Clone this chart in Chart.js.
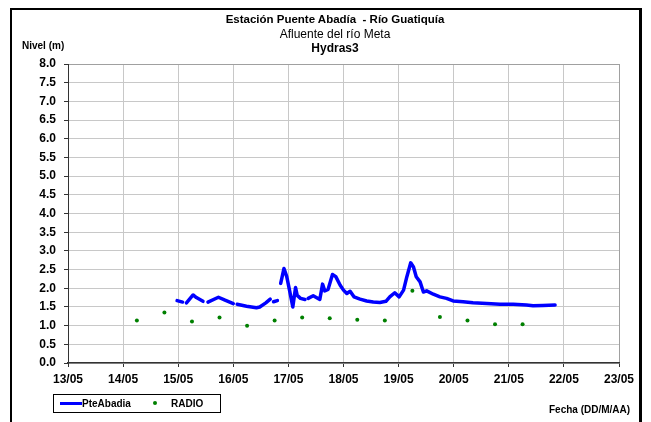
<!DOCTYPE html>
<html lang="es">
<head>
<meta charset="utf-8">
<title>Estación Puente Abadía - Río Guatiquía</title>
<script src="https://cdn.jsdelivr.net/npm/chart.js@4.4.1/dist/chart.umd.min.js"></script>
<style>
  html, body { margin: 0; padding: 0; background: #fff; }
  body { width: 651px; height: 422px; position: relative; overflow: hidden;
         font-family: 'Liberation Sans', Arial, sans-serif; color: #000; }
  #frame { position: absolute; left: 10px; top: 8px; width: 632px; height: 420px;
           border: 2px solid #000; border-right-width: 3px; box-sizing: border-box; }
  #chartWrap { position: absolute; left: 0; top: 0; width: 651px; height: 422px; }
  .txt { position: absolute; white-space: nowrap; }
  .title { left: 0; width: 670px; text-align: center; font-size: 12px; }
  #t1 { top: 13px; font-weight: bold; font-size: 11.5px; }
  #t2 { top: 27px; }
  #t3 { top: 41px; font-weight: bold; }
  #yLabel { left: 22px; top: 40px; font-size: 10px; font-weight: bold; }
  #xLabel { left: 549px; top: 404px; font-size: 10px; font-weight: bold; }
  #legend { position: absolute; left: 53px; top: 394px; width: 168px; height: 19px;
            border: 1px solid #000; box-sizing: border-box; font-size: 10px;
            font-weight: bold; }
  #legend .sw-line { position: absolute; left: 6px; top: 7px; width: 22px; height: 3px; background: #0000ff; }
  #legend .sw-dot { position: absolute; left: 99px; top: 6px; width: 4px; height: 4px;
                    border-radius: 50%; background: #008000; }
  #legend .lab1 { position: absolute; left: 28px; top: 3px; }
  #legend .lab2 { position: absolute; left: 117px; top: 3px; }
</style>
</head>
<body>
<div id="frame"></div>
<div id="chartWrap"><canvas id="levelChart" width="651" height="422"></canvas></div>

<div id="t1" class="txt title">Estación Puente Abadía&nbsp; - Río Guatiquía</div>
<div id="t2" class="txt title">Afluente del río Meta</div>
<div id="t3" class="txt title">Hydras3</div>
<div id="yLabel" class="txt">Nivel (m)</div>
<div id="xLabel" class="txt">Fecha (DD/M/AA)</div>
<div id="legend">
  <span class="sw-line"></span><span class="lab1">PteAbadia</span>
  <span class="sw-dot"></span><span class="lab2">RADIO</span>
</div>

<script>
/* -------------------------------------------------------
   DATA  (x = days after 13/05, y = nivel in metres)
------------------------------------------------------- */
const dayTicks = ['13/05', '14/05', '15/05', '16/05', '17/05', '18/05',
                  '19/05', '20/05', '21/05', '22/05', '23/05'];

// null values break the line where the station has no record
const levelDays = [
  1.98, 2.08, 2.11,
  2.15, 2.27, 2.33, 2.45, 2.50,
  2.54, 2.73, 2.85, 3.00, 3.03,
  3.07, 3.24, 3.42, 3.48, 3.59, 3.67, 3.70,
  3.73, 3.80, 3.83,
  3.86, 3.92, 3.97, 4.02, 4.08, 4.13, 4.16, 4.22, 4.30, 4.33,
  4.36, 4.45, 4.57, 4.62, 4.66, 4.72, 4.80, 4.86, 4.94, 5.00,
  5.06, 5.12, 5.19, 5.30, 5.42, 5.54, 5.66, 5.77, 5.84, 5.93,
  6.01, 6.09, 6.15, 6.22, 6.27, 6.32, 6.39, 6.45, 6.51, 6.63,
  6.75, 6.87, 6.99, 7.17, 7.35, 7.60, 7.84, 8.08, 8.32, 8.44,
  8.62, 8.84
];
const levelValues = [
  1.67, 1.63, null,
  1.61, 1.82, 1.75, 1.65, null,
  1.63, 1.76, 1.68, 1.59, null,
  1.57, 1.52, 1.48, 1.50, 1.61, 1.71, null,
  1.64, 1.67, null,
  2.13, 2.53, 2.31, 1.95, 1.50, 2.02, 1.81, 1.73, 1.70, null,
  1.73, 1.80, 1.70, 2.11, 1.93, 1.97, 2.37, 2.31, 2.08, 1.95,
  1.86, 1.92, 1.77, 1.71, 1.66, 1.63, 1.62, 1.65, 1.77, 1.88,
  1.77, 1.95, 2.31, 2.68, 2.57, 2.31, 2.17, 1.90, 1.93, 1.84,
  1.77, 1.73, 1.66, 1.64, 1.61, 1.59, 1.57, 1.57, 1.55, 1.53,
  1.54, 1.55
];

const radioDays   = [1.25, 1.75, 2.25, 2.75, 3.25, 3.75, 4.25, 4.75,
                     5.25, 5.75, 6.25, 6.75, 7.25, 7.75, 8.25];
const radioValues = [1.14, 1.35, 1.11, 1.22, 1.00, 1.14, 1.22, 1.20,
                     1.16, 1.14, 1.93, 1.23, 1.14, 1.04, 1.04];

const yMin = 0, yMax = 8, yStep = 0.5;

/* -------------------------------------------------------
   CHART
------------------------------------------------------- */
const tickFont = { family: "'Liberation Sans', Arial, sans-serif", size: 12, weight: 'bold' };

function toPoints(xs, ys) {
  return xs.map((x, i) => ({ x: x, y: ys[i] }));
}

new Chart(document.getElementById('levelChart'), {
  type: 'line',
  data: {
    datasets: [
      {
        label: 'PteAbadia',
        data: toPoints(levelDays, levelValues),
        borderColor: '#0000ff',
        borderWidth: 3.5,
        borderJoinStyle: 'round',
        borderCapStyle: 'round',
        pointRadius: 0,
        tension: 0,
        spanGaps: false,
        fill: false,
      },
      {
        label: 'RADIO',
        data: toPoints(radioDays, radioValues),
        showLine: false,
        pointRadius: 2,
        pointBackgroundColor: '#008000',
        pointBorderColor: '#008000',
        pointBorderWidth: 0,
      }
    ]
  },
  options: {
    responsive: false,
    animation: false,
    devicePixelRatio: 1,
    layout: { padding: { top: 64, right: 32, bottom: 0, left: 0 } },
    plugins: {
      legend: { display: false },
      title: { display: false },
      tooltip: { enabled: false }
    },
    scales: {
      x: {
        type: 'linear',
        min: 0, max: dayTicks.length - 1,
        afterFit: s => { s.height = 59; },
        afterBuildTicks: s => { s.ticks = dayTicks.map((_, i) => ({ value: i })); },
        grid: {
          color: c => (c.tick && c.tick.value === dayTicks.length - 1) ? '#a0a0a0' : '#c8c8c8',
          tickColor: '#333',
          tickLength: 4,
          lineWidth: 1,
        },
        border: { color: '#333', width: 1.5 },
        ticks: {
          font: tickFont, color: '#000', padding: 5, maxRotation: 0, autoSkip: false,
          callback: v => dayTicks[v]
        }
      },
      y: {
        min: yMin, max: yMax,
        afterFit: s => { s.width = 68; },
        grid: {
          color: c => (c.tick && c.tick.value === yMax) ? '#a0a0a0' : '#c8c8c8',
          tickColor: '#333',
          tickLength: 4,
          lineWidth: 1,
        },
        border: { color: '#333', width: 1 },
        ticks: {
          stepSize: yStep, font: tickFont, color: '#000', padding: 8,
          callback: v => Number(v).toFixed(1)
        }
      }
    }
  }
});
</script>
</body>
</html>
